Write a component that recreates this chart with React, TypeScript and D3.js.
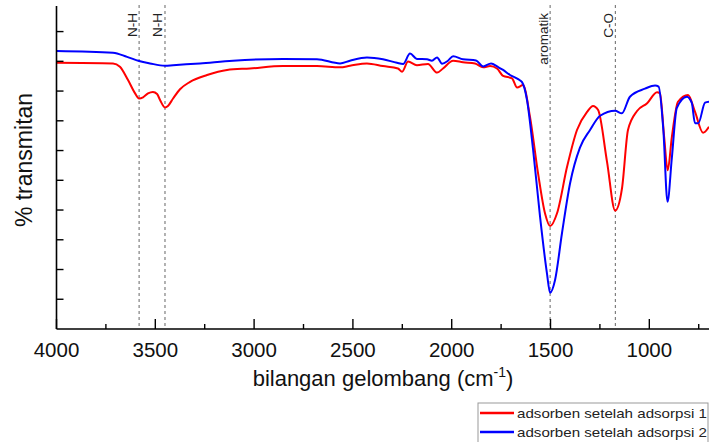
import React from "react";
import * as d3 from "d3";

// wavenumber (cm-1) / % transmittance
const wnRed = [4000, 3714, 3679, 3638, 3603, 3582, 3562, 3537, 3512, 3491, 3476, 3451, 3436, 3410, 3375, 3324, 3238, 3137, 3021, 2854, 2682, 2565, 2515, 2429, 2348, 2272, 2251, 2221, 2176, 2120, 2074, 2044, 1993, 1943, 1882, 1841, 1806, 1771, 1740, 1695, 1669, 1639, 1604, 1563, 1528, 1502, 1467, 1416, 1366, 1315, 1285, 1259, 1214, 1173, 1138, 1108, 1062, 1011, 961, 946, 925, 907, 886, 855, 804, 769, 728, 698];
const tRed = [89.5, 89.3, 88.2, 83.7, 79.3, 77.5, 77.9, 79.2, 79.7, 79.0, 77.0, 74.5, 75.0, 77.5, 80.6, 83.1, 85.4, 87.1, 87.6, 88.4, 88.4, 88.0, 88.5, 89.3, 88.4, 87.6, 86.5, 89.9, 88.7, 89.1, 86.2, 87.6, 90.2, 89.7, 89.3, 88.0, 88.4, 87.6, 85.1, 84.3, 81.2, 82.0, 71.4, 52.3, 38.9, 34.6, 38.9, 54.6, 66.9, 73.0, 75.0, 73.6, 56.2, 39.8, 47.4, 66.9, 73.3, 75.9, 79.6, 79.2, 64.6, 53.4, 64.5, 76.4, 78.7, 73.1, 66.0, 68.0];

const wnBlue = [4000, 3714, 3643, 3582, 3527, 3451, 3410, 3274, 3107, 2854, 2682, 2565, 2515, 2429, 2348, 2277, 2246, 2211, 2176, 2125, 2100, 2074, 2049, 2019, 1993, 1943, 1877, 1841, 1801, 1766, 1740, 1705, 1664, 1644, 1619, 1588, 1553, 1518, 1502, 1477, 1442, 1401, 1351, 1300, 1249, 1173, 1139, 1098, 1022, 971, 953, 929, 908, 886, 861, 810, 785, 769, 752, 718, 698];
const tBlue = [93.5, 92.9, 91.5, 90.1, 89.3, 88.5, 88.7, 89.3, 90.2, 90.8, 90.7, 89.3, 90.2, 91.3, 90.7, 89.5, 89.1, 92.6, 90.8, 90.7, 90.2, 91.3, 89.2, 90.2, 91.7, 90.7, 90.3, 88.3, 89.3, 88.1, 87.1, 85.4, 84.0, 83.0, 77.0, 60.2, 37.8, 18.7, 12.2, 16.5, 32.2, 49.0, 61.0, 66.9, 71.7, 73.4, 72.5, 78.1, 80.8, 81.9, 81.5, 66.9, 42.8, 57.5, 74.3, 78.1, 76.0, 69.2, 69.2, 76.1, 76.4];

const seriesNames = ["adsorben setelah adsorpsi 1", "adsorben setelah adsorpsi 2"];
const seriesColors = ["#ff0000", "#0000ff"];

const xMajor = [4000, 3500, 3000, 2500, 2000, 1500, 1000];
const xMinor = [3750, 3250, 2750, 2250, 1750, 1250, 750];
const yTicks = [10, 20, 30, 40, 50, 60, 70, 80, 90, 100];

const peakWn = [3582, 3451, 1502, 1172];
const peakLabels = ["N-H", "N-H", "aromatik", "C-O"];

const W = 709;
const H = 442;
const m = { left: 56.5, right: 0.4, top: 6, bottom: 113 };
const font = "'Liberation Sans', Arial, Helvetica, sans-serif";

const App = () => {
  const x = d3.scaleLinear().domain([4000, 700]).range([m.left, W - m.right]);
  const y = d3.scaleLinear().domain([0, 108.6]).range([H - m.bottom, m.top]);
  const y0 = H - m.bottom;

  const line = d3
    .line<[number, number]>()
    .x((d) => x(d[0]))
    .y((d) => y(d[1]))
    .curve(d3.curveMonotoneX);

  const red = wnRed.map((w, i) => [w, tRed[i]] as [number, number]);
  const blue = wnBlue.map((w, i) => [w, tBlue[i]] as [number, number]);
  const series = [red, blue];

  return (
    <svg
      width={W}
      height={H}
      style={{ position: "absolute", left: 0, top: 0, background: "#fff" }}
      fontFamily={font}
    >
      <defs>
        <clipPath id="plot">
          <rect x={m.left} y={0} width={W - m.left} height={y0} />
        </clipPath>
      </defs>

      {/* marker lines for the bands */}
      {peakWn.map((w, i) => (
        <g key={i}>
          <line
            x1={x(w)}
            x2={x(w)}
            y1={m.top - 1}
            y2={y0}
            stroke="#666"
            strokeWidth={1}
            strokeDasharray="3,3"
          />
          <text
            transform={`translate(${x(w) - 2.5},13) rotate(-90)`}
            textAnchor="end"
            fontSize={13.5}
            fill="#222"
          >
            {peakLabels[i]}
          </text>
        </g>
      ))}

      <g clipPath="url(#plot)">
        {series.map((s, i) => (
          <path
            key={i}
            d={line(s) || ""}
            fill="none"
            stroke={seriesColors[i]}
            strokeWidth={2}
            strokeLinejoin="round"
          />
        ))}
      </g>

      {/* axes */}
      <line x1={m.left} x2={m.left} y1={m.top} y2={y0} stroke="#000" strokeWidth={1.6} />
      <line x1={m.left} x2={W} y1={y0} y2={y0} stroke="#000" strokeWidth={1.6} />
      {yTicks.map((t) => (
        <line key={t} x1={m.left} x2={m.left + 7} y1={y(t)} y2={y(t)} stroke="#000" strokeWidth={1.4} />
      ))}
      {xMajor.map((t) => (
        <g key={t}>
          <line x1={x(t)} x2={x(t)} y1={y0} y2={y0 - 10} stroke="#000" strokeWidth={1.4} />
          <text x={x(t)} y={357} textAnchor="middle" fontSize={20.5} fill="#111">
            {t}
          </text>
        </g>
      ))}
      {xMinor.map((t) => (
        <line key={t} x1={x(t)} x2={x(t)} y1={y0} y2={y0 - 5} stroke="#000" strokeWidth={1.4} />
      ))}

      <text x={383} y={386} textAnchor="middle" fontSize={22} fill="#111">
        bilangan gelombang (cm
        <tspan fontSize={14} dy={-9}>-1</tspan>
        <tspan dy={9}>)</tspan>
      </text>
      <text
        transform={`translate(32,160) rotate(-90)`}
        textAnchor="middle"
        fontSize={23}
        fill="#111"
      >
        % transmitan
      </text>

      {/* legend */}
      <g>
        <rect x={478} y={403} width={230} height={42} fill="#fff" stroke="#999" strokeWidth={1} />
        {seriesNames.map((n, i) => (
          <g key={n} transform={`translate(0,${413 + i * 19})`}>
            <line x1={480} x2={514} y1={0} y2={0} stroke={seriesColors[i]} strokeWidth={2.5} />
            <text
              x={517}
              y={5}
              fontSize={13.5}
              fill="#222"
              textLength={190}
              lengthAdjust="spacingAndGlyphs"
            >
              {n}
            </text>
          </g>
        ))}
      </g>
    </svg>
  );
};

export default App;
